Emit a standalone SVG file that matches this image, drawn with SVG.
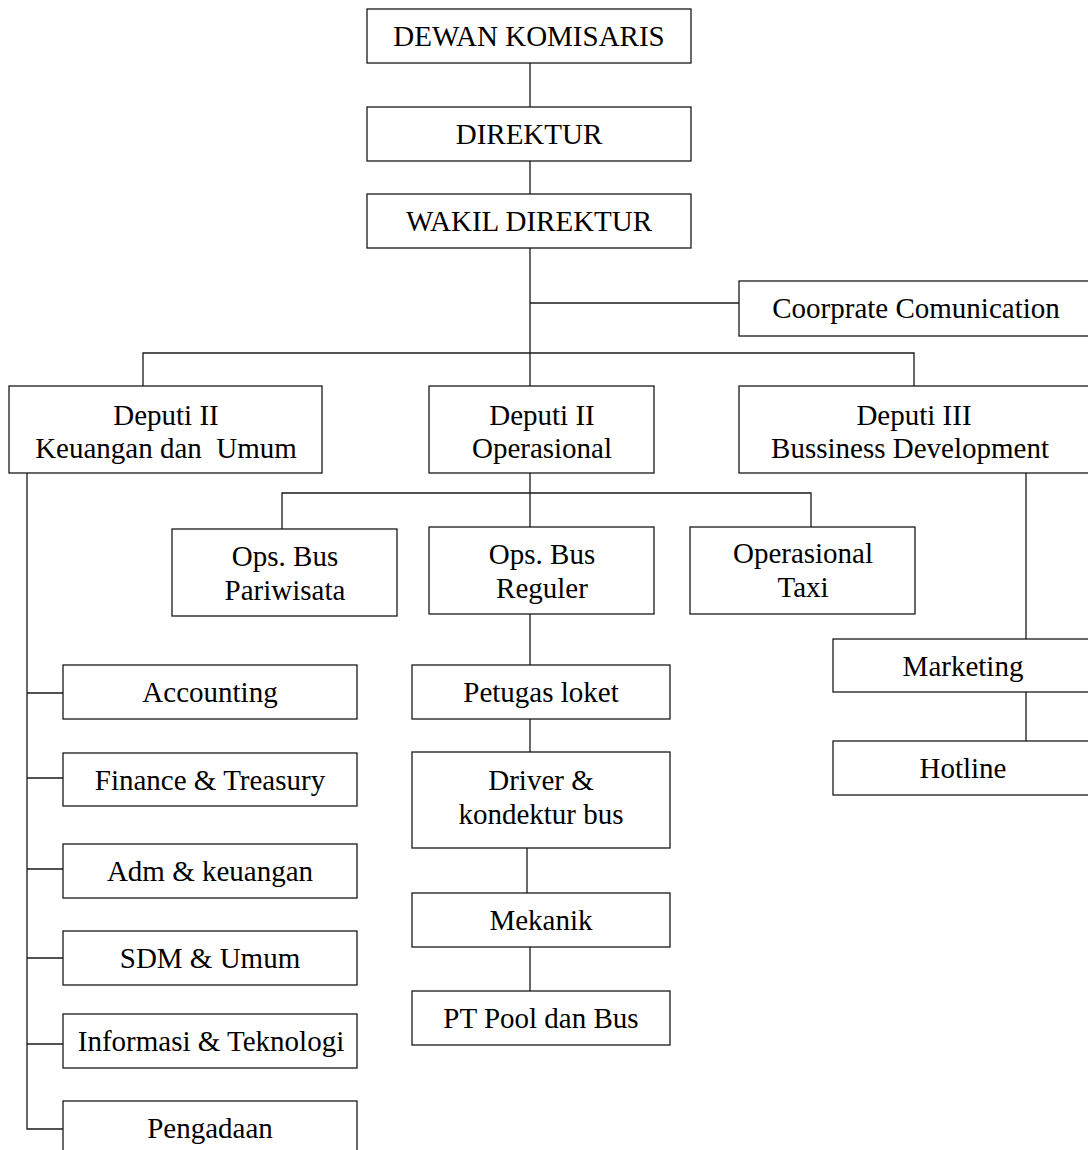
<svg xmlns="http://www.w3.org/2000/svg" width="1088" height="1150" viewBox="0 0 1088 1150">
<style>
.box{fill:#fff;stroke:#1a1a1a;stroke-width:1.3}
.t{font-family:"Liberation Serif","Times New Roman",serif;font-size:29px;fill:#000;text-anchor:middle;white-space:pre}
.c{fill:none;stroke:#1a1a1a;stroke-width:1.3}
</style>
<rect width="1088" height="1150" fill="#fff"/>
<g id="connectors">
<path class="c" d="M530,63V107M530,161V194M530,248V386M530,303H739M143,386V353H914V386"/>
<path class="c" d="M530,473V527M282,529V493H811V527"/>
<path class="c" d="M530,614V665M530,719V752M527,848V893M530,947V991"/>
<path class="c" d="M27,473V1129H63M27,693H63M27,778H63M27,869H63M27,958H63M27,1044H63"/>
<path class="c" d="M1026,473V639M1026,692V741"/>
</g>
<g id="dewan"><rect class="box" x="367" y="9" width="324" height="54"/><text class="t" x="529" y="46">DEWAN KOMISARIS</text></g>
<g id="direktur"><rect class="box" x="367" y="107" width="324" height="54"/><text class="t" x="529" y="144">DIREKTUR</text></g>
<g id="wakil"><rect class="box" x="367" y="194" width="324" height="54"/><text class="t" x="529" y="231">WAKIL DIREKTUR</text></g>
<g id="corp"><rect class="box" x="739" y="281" width="356" height="55"/><text class="t" x="916" y="318">Coorprate Comunication</text></g>
<g id="dep-keu"><rect class="box" x="9" y="386" width="313" height="87"/><text class="t" x="166" y="425">Deputi II</text><text class="t" x="166" y="458">Keuangan dan  Umum</text></g>
<g id="dep-ops"><rect class="box" x="429" y="386" width="225" height="87"/><text class="t" x="542" y="425">Deputi II</text><text class="t" x="542" y="458">Operasional</text></g>
<g id="dep-bd"><rect class="box" x="739" y="386" width="356" height="87"/><text class="t" x="914" y="425">Deputi III</text><text class="t" x="910" y="458">Bussiness Development</text></g>
<g id="ops-pariwisata"><rect class="box" x="172" y="529" width="225" height="87"/><text class="t" x="285" y="566">Ops. Bus</text><text class="t" x="285" y="600">Pariwisata</text></g>
<g id="ops-reguler"><rect class="box" x="429" y="527" width="225" height="87"/><text class="t" x="542" y="564">Ops. Bus</text><text class="t" x="542" y="598">Reguler</text></g>
<g id="ops-taxi"><rect class="box" x="690" y="527" width="225" height="87"/><text class="t" x="803" y="563">Operasional</text><text class="t" x="803" y="597">Taxi</text></g>
<g id="marketing"><rect class="box" x="833" y="639" width="260" height="53"/><text class="t" x="963" y="676">Marketing</text></g>
<g id="hotline"><rect class="box" x="833" y="741" width="260" height="54"/><text class="t" x="963" y="778">Hotline</text></g>
<g id="petugas"><rect class="box" x="412" y="665" width="258" height="54"/><text class="t" x="541" y="702">Petugas loket</text></g>
<g id="driver"><rect class="box" x="412" y="752" width="258" height="96"/><text class="t" x="541" y="790">Driver &amp;</text><text class="t" x="541" y="824">kondektur bus</text></g>
<g id="mekanik"><rect class="box" x="412" y="893" width="258" height="54"/><text class="t" x="541" y="930">Mekanik</text></g>
<g id="ptpool"><rect class="box" x="412" y="991" width="258" height="54"/><text class="t" x="541" y="1028">PT Pool dan Bus</text></g>
<g id="accounting"><rect class="box" x="63" y="665" width="294" height="54"/><text class="t" x="210" y="702">Accounting</text></g>
<g id="finance"><rect class="box" x="63" y="753" width="294" height="53"/><text class="t" x="210" y="790">Finance &amp; Treasury</text></g>
<g id="adm"><rect class="box" x="63" y="844" width="294" height="54"/><text class="t" x="210" y="881">Adm &amp; keuangan</text></g>
<g id="sdm"><rect class="box" x="63" y="931" width="294" height="54"/><text class="t" x="210" y="968">SDM &amp; Umum</text></g>
<g id="informasi"><rect class="box" x="63" y="1014" width="294" height="54"/><text class="t" x="211" y="1051">Informasi &amp; Teknologi</text></g>
<g id="pengadaan"><rect class="box" x="63" y="1101" width="294" height="60"/><text class="t" x="210" y="1138">Pengadaan</text></g>
</svg>
